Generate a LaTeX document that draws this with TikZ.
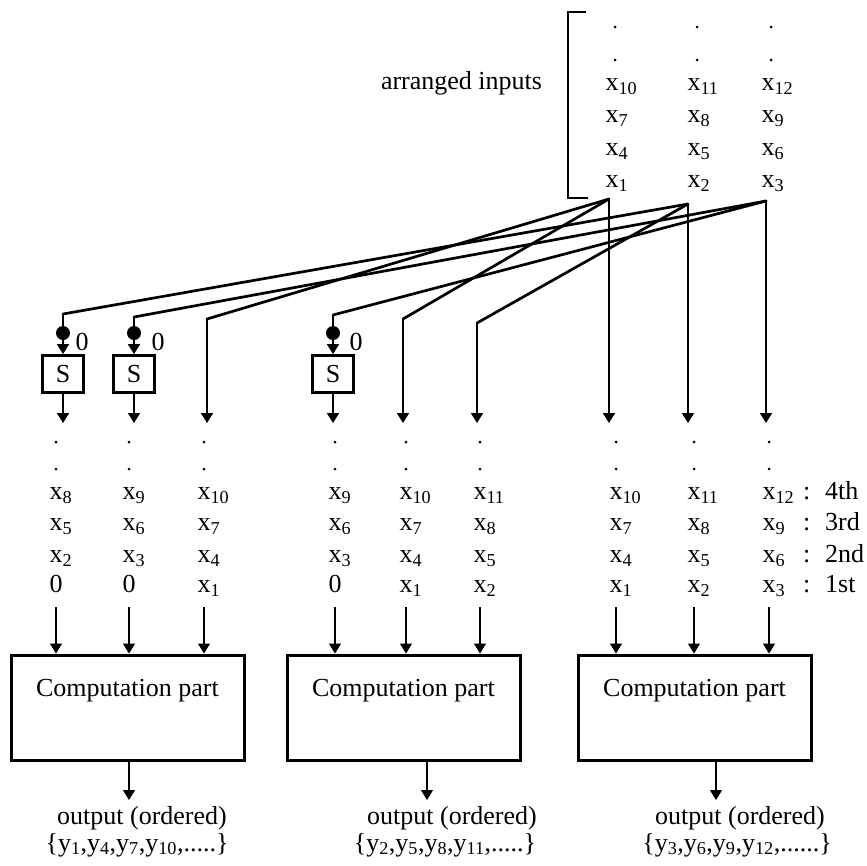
\documentclass[tikz,border=0pt]{standalone}
\usepackage{fontspec}
\setmainfont{Liberation Serif}
\usetikzlibrary{arrows.meta}
\begin{document}
\begin{tikzpicture}[x=1pt,y=-1pt,
  txt/.style={font=\fontsize{26}{30}\selectfont, inner sep=0pt, outer sep=0pt},
  wire/.style={line width=2.7pt, line cap=round},
  feed/.style={line width=1.8pt},
  thinwire/.style={line width=1.1pt},
  arr/.style={-{Triangle[width=12pt,length=10pt]}},
  sbox/.style={draw, line width=2.8pt, minimum width=41pt, minimum height=37pt,
    inner sep=0pt, font=\fontsize{26}{30}\selectfont},
  cbox/.style={draw, line width=3pt, minimum width=233pt, minimum height=105pt, inner sep=0pt},
  blob/.style={circle, fill, minimum size=14pt, inner sep=0pt},
  pt/.style={circle, fill, minimum size=3pt, inner sep=0pt},
]
\useasboundingbox (0,0) rectangle (867,865);

% ---- arranged input matrix ----
\draw[line width=1.4pt] (586,12) -- (568,12) -- (568,198) -- (588,198);
\node[txt, anchor=mid east] (lab) at (542,87) {arranged inputs};
\foreach \cx/\c in {612/1,694/2,768/3} {
  \node[pt] (mt\c a) at (\cx+3,27) {};
  \node[pt] (mt\c b) at (\cx+3,60) {};
  \foreach \k/\ry in {1/185,2/153,3/120,4/88} {
    \pgfmathtruncatemacro\n{3*(\k-1)+\c}
    \node[txt, anchor=mid west] (m\n) at (\cx-6.5,\ry) {x\textsubscript{\n}};
  }
}

% taps below the three input columns
\coordinate (a1) at (609,199);
\coordinate (a2) at (688,204);
\coordinate (a3) at (766,201);

% bends of the distribution lines
\coordinate (k1) at (63,314);
\coordinate (k2) at (134,317);
\coordinate (k3) at (207,319);
\coordinate (k4) at (333,315);
\coordinate (k5) at (403,319);
\coordinate (k6) at (477,323);

% ends of the distribution lines
\foreach \i/\cx in {1/63,2/134,3/207,4/333,5/403,6/477,7/609,8/688,9/766}
  \coordinate (e\i) at (\cx,423);

% shift stages
\foreach \i/\cx/\zx in {1/63/82,2/134/158,4/333/356} {
  \node[blob] (d\i) at (\cx,333) {};
  \node[txt] (z\i) at (\zx,342) {0};
  \node[sbox] (s\i) at (\cx,374) {S};
}

% distribution lines
\draw[wire] (a2) -- (k1);
\draw[wire] (a3) -- (k2);
\draw[wire] (a1) -- (k3);
\draw[wire] (a3) -- (k4);
\draw[wire] (a1) -- (k5);
\draw[wire] (a2) -- (k6);
\foreach \i in {1,2,4} {
  \draw[feed] (k\i) -- (d\i);
  \draw[feed,arr] (d\i) -- (s\i.north);
  \draw[feed,arr] (s\i.south) -- (e\i);
}
\foreach \i in {3,5,6} \draw[feed,arr] (k\i) -- (e\i);
\draw[feed,arr] (a1) -- (e7);
\draw[feed,arr] (a2) -- (e8);
\draw[feed,arr] (a3) -- (e9);

% ---- computation parts ----
\node[cbox] (cb1) at (127.5,707.5) {};
\node[cbox] (cb2) at (403.5,707.5) {};
\node[cbox] (cb3) at (694.5,707.5) {};
\foreach \g in {1,2,3}
  \node[txt] (ct\g) at ([yshift=17pt]cb\g.center) {Computation part};

% ---- reordered input streams ----
\foreach \cx/\nm/\s/\z/\g in {56/1/2/1/1, 129/2/3/1/1, 204/3/1/0/1,
                              335/4/3/1/2, 406/5/1/0/2, 480/6/2/0/2,
                              616/7/1/0/3, 694/8/2/0/3, 769/9/3/0/3} {
  \node[pt] (p\nm a) at (\cx,442) {};
  \node[pt] (p\nm b) at (\cx,469) {};
  \foreach \r/\ry in {1/590,2/560,3/528,4/497} {
    \pgfmathtruncatemacro\n{\s+3*(\r-1-\z)}
    \ifnum\n<1 \def\entry{\makebox[13pt][c]{0}}\else\def\entry{\makebox[13pt][c]{x}\textsubscript{\n}}\fi
    \node[txt, anchor=mid west] (v\nm-\r) at (\cx-6.5,\ry) {\entry};
  }
  \coordinate (i\nm) at (\cx,607);
  \draw[thinwire,arr] (i\nm) -- (i\nm |- cb\g.north);
}
\foreach \r/\ry/\t in {1/590/1st,2/560/2nd,3/528/3rd,4/497/4th}
  \node[txt, anchor=mid west] (ord\r) at (803,\ry) {:\hspace{15pt}\t};

% ---- outputs ----
\coordinate (o1) at (129,800);
\coordinate (o2) at (427,800);
\coordinate (o3) at (716,800);
\foreach \g in {1,2,3}
  \draw[thinwire,arr] (cb\g.south -| o\g) -- (o\g);
\node[txt] (out1) at (142,818) {output (ordered)};
\node[txt] (out2) at (452,818) {output (ordered)};
\node[txt] (out3) at (740,818) {output (ordered)};
\node[txt] (set1) at (137,845) {\{y\textsubscript{1},y\textsubscript{4},y\textsubscript{7},y\textsubscript{10},.....\}};
\node[txt] (set2) at (445,845) {\{y\textsubscript{2},y\textsubscript{5},y\textsubscript{8},y\textsubscript{11},.....\}};
\node[txt] (set3) at (737,845) {\{y\textsubscript{3},y\textsubscript{6},y\textsubscript{9},y\textsubscript{12},......\}};
\end{tikzpicture}
\end{document}
